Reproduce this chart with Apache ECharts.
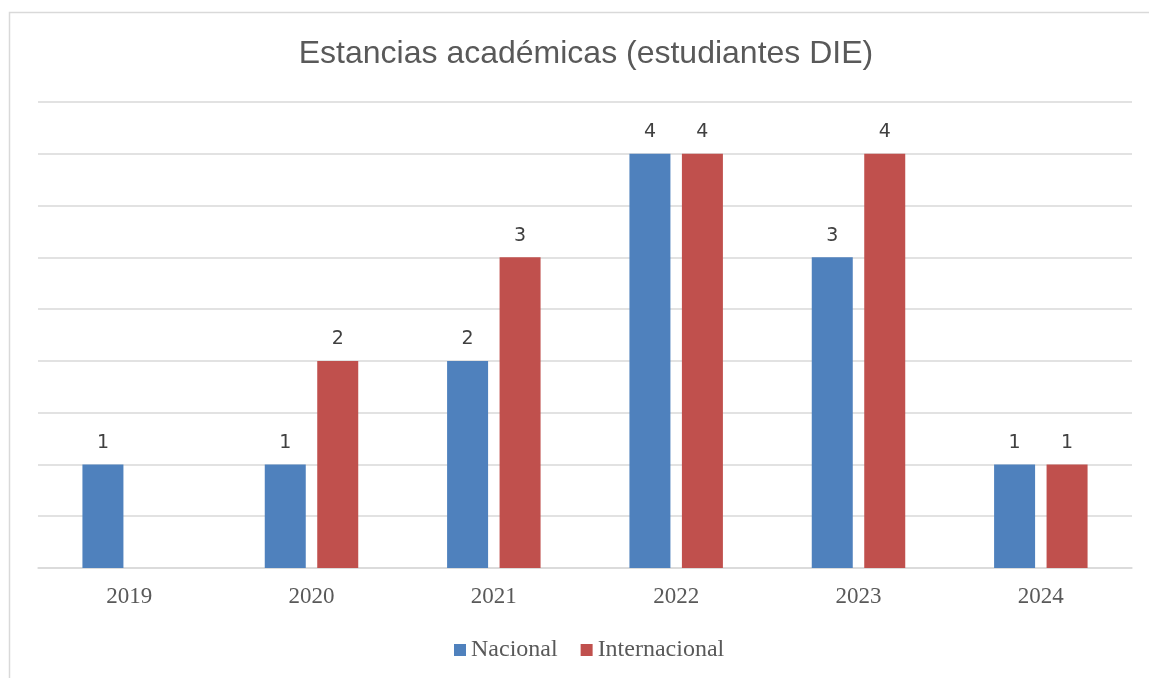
<!DOCTYPE html>
<html>
<head>
<meta charset="utf-8">
<script src="https://cdn.jsdelivr.net/npm/echarts@6/dist/echarts.min.js"></script>
<style>
html,body{margin:0;padding:0;background:#fff;}
#chart{width:1149px;height:678px;}
</style>
</head>
<body>
<div id="chart"></div>
<script>
const titleText = 'Estancias académicas (estudiantes DIE)';
const categories = ['2019', '2020', '2021', '2022', '2023', '2024'];
const seriesNames = ['Nacional', 'Internacional'];
const nacional = [1, 1, 2, 4, 3, 1];
const internacional = [null, 2, 3, 4, 4, 1];

const chart = echarts.init(document.getElementById('chart'), null, {renderer: 'canvas'});
const labelStyle = {
  show: true,
  position: 'top',
  distance: 12,
  fontFamily: 'DejaVu Sans',
  fontSize: 19,
  color: '#404040'
};
chart.setOption({
  backgroundColor: '#ffffff',
  animation: false,
  graphic: [{
    type: 'rect',
    shape: {x: 9.5, y: 12.5, width: 1200, height: 720},
    style: {fill: 'none', stroke: '#d9d9d9', lineWidth: 1.5},
    silent: true
  }],
  title: {
    text: titleText,
    left: 581,
    textAlign: 'center',
    top: 33,
    textStyle: {
      fontFamily: 'Liberation Sans',
      fontSize: 32,
      fontWeight: 'normal',
      color: '#595959'
    }
  },
  legend: {
    data: seriesNames,
    left: 449,
    top: 633,
    itemWidth: 12,
    itemHeight: 12,
    itemGap: 23,
    icon: 'rect',
    textStyle: {
      fontFamily: 'Liberation Serif',
      fontSize: 24,
      color: '#595959'
    }
  },
  grid: {left: 38, right: 17, top: 102, bottom: 110, containLabel: false},
  xAxis: {
    type: 'category',
    data: categories,
    axisTick: {show: false},
    axisLine: {show: true, lineStyle: {color: '#d9d9d9', width: 1.5}},
    axisLabel: {
      margin: 17,
      fontFamily: 'Liberation Serif',
      fontSize: 23,
      color: '#595959'
    }
  },
  yAxis: {
    type: 'value',
    min: 0,
    max: 4.5,
    interval: 0.5,
    axisLabel: {show: false},
    axisLine: {show: false},
    axisTick: {show: false},
    splitLine: {show: true, lineStyle: {color: '#d9d9d9', width: 1.5}}
  },
  series: [
    {
      name: seriesNames[0],
      type: 'bar',
      data: nacional,
      barWidth: 41,
      barGap: '28%',
      itemStyle: {color: '#4F81BD'},
      label: labelStyle
    },
    {
      name: seriesNames[1],
      type: 'bar',
      data: internacional,
      barWidth: 41,
      barGap: '28%',
      itemStyle: {color: '#C0504D'},
      label: labelStyle
    }
  ]
});
</script>
</body>
</html>
